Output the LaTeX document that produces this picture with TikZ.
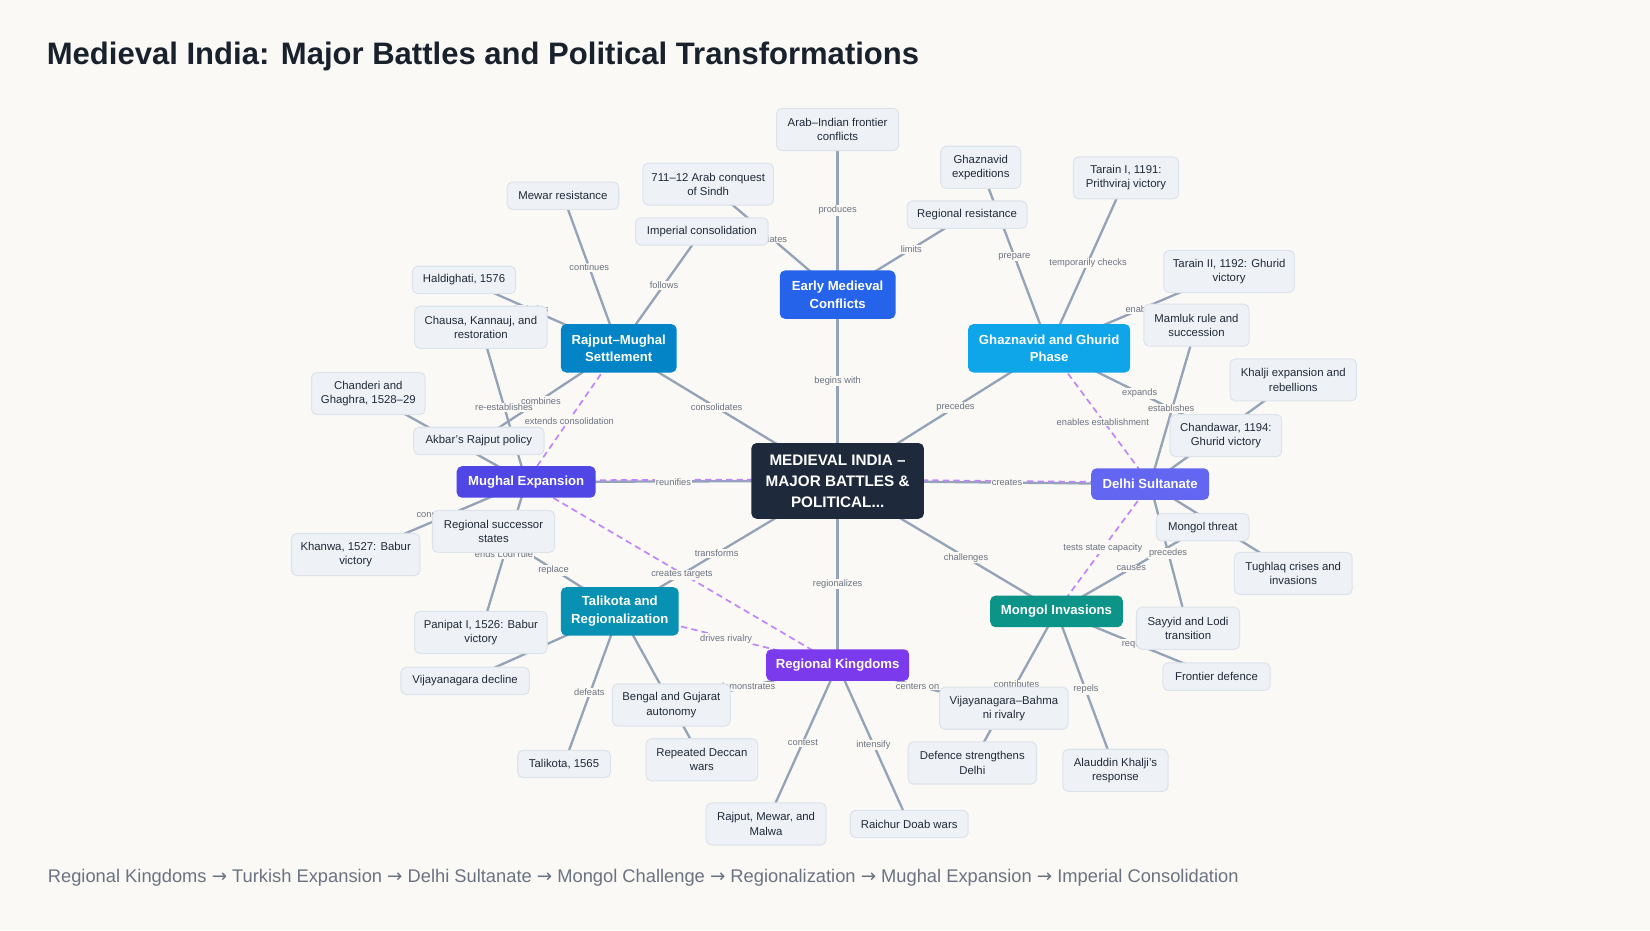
\documentclass[tikz,border=0pt]{standalone}
\usepackage{fontspec}
\setmainfont{Liberation Sans}
\newfontfamily\arrowfont{DejaVu Sans}
\newcommand{\ar}{{\arrowfont →}}
\begin{document}
\definecolor{bg}{HTML}{FAF9F6}
\definecolor{edgec}{HTML}{94A3B8}
\definecolor{lblc}{HTML}{6B7280}
\definecolor{leaff}{HTML}{EEF2F7}
\definecolor{leafd}{HTML}{DDE3EA}
\definecolor{leaft}{HTML}{1F2937}
\definecolor{dash}{HTML}{C084FC}
\begin{tikzpicture}[x=1pt,y=-1pt,
  leaf/.style={draw=leafd,line width=1pt,fill=leaff,rounded corners=5pt,text=leaft,font=\fontsize{10.8}{13.5}\selectfont,align=center,inner sep=0pt},
  hub/.style={rounded corners=5pt,text=white,font=\fontsize{12.5}{17}\selectfont\bfseries,align=center,inner sep=0pt},
  lbl/.style={fill=bg,text=lblc,font=\fontsize{8.8}{10}\selectfont,inner sep=1pt},
  e/.style={draw=edgec,line width=2.2pt},
  d/.style={draw=dash,line width=1.6pt,dash pattern=on 6pt off 4pt}]
\fill[bg] (0,0) rectangle (1568,884);
\useasboundingbox (0,0) rectangle (1568,884);
\node[anchor=west,font=\fontsize{29.5}{34}\selectfont\bfseries,text=leaft!80!black] (title) at (41,54) {Medieval India: Major Battles and Political Transformations};
\node[anchor=west,font=\fontsize{17.4}{20}\selectfont,text=lblc] (foot) at (42,834) {Regional Kingdoms \ar{} Turkish Expansion \ar{} Delhi Sultanate \ar{} Mongol Challenge \ar{} Regionalization \ar{} Mughal Expansion \ar{} Imperial Consolidation};

% coordinates
\coordinate (C) at (796,457);
\coordinate (EM) at (796,280); \coordinate (GG) at (997,331); \coordinate (DS) at (1093,460);
\coordinate (MI) at (1004,581); \coordinate (RK) at (796,632); \coordinate (TR) at (589,581);
\coordinate (ME) at (500,458); \coordinate (RM) at (588,331);
\coordinate (l1) at (796,123); \coordinate (l2) at (673,175); \coordinate (l3) at (667,220);
\coordinate (l4) at (535,186); \coordinate (l5) at (932,159); \coordinate (l6) at (919,204);
\coordinate (l7) at (1070,169); \coordinate (l8) at (1168,258); \coordinate (l9) at (1137,309);
\coordinate (l10) at (1229,361); \coordinate (l11) at (1165,414); \coordinate (l12) at (441,266);
\coordinate (l13) at (457,311); \coordinate (l14) at (350,374); \coordinate (l15) at (455,419);
\coordinate (l16) at (469,505); \coordinate (l17) at (338,527); \coordinate (l18) at (457,601);
\coordinate (l19) at (442,647); \coordinate (l20) at (536,726); \coordinate (l21) at (638,670);
\coordinate (l22) at (667,722); \coordinate (l23) at (728,783); \coordinate (l24) at (864,783);
\coordinate (l25) at (954,673); \coordinate (l26) at (924,725); \coordinate (l27) at (1060,732);
\coordinate (l28) at (1156,643); \coordinate (l29) at (1129,597); \coordinate (l30) at (1143,501);
\coordinate (l31) at (1229,545);

% solid edges
\foreach \a/\b in {C/EM,C/GG,C/DS,C/MI,C/RK,C/TR,C/ME,C/RM,
  EM/l1,EM/l2,EM/l6,GG/l5,GG/l7,GG/l8,GG/l11,DS/l9,DS/l10,DS/l31,DS/l29,
  MI/l30,MI/l28,MI/l27,MI/l26,RK/l25,RK/l23,RK/l24,RK/l21,
  TR/l22,TR/l20,TR/l19,TR/l16,ME/l18,ME/l17,ME/l14,ME/l13,RM/l15,RM/l12,RM/l4,RM/l3}
  \draw[e] (\a) -- (\b);
% dashed edges
\draw[d] ([yshift=1.5pt]C) -- ([yshift=1.5pt]ME);
\draw[d] ([yshift=1.5pt]C) -- ([yshift=1.5pt]DS);
\draw[d] (RM) -- (ME);
\draw[d] (ME) -- (RK);
\draw[d] (TR) -- (RK);
\draw[d] (GG) -- (DS);
\draw[d] (DS) -- (MI);

% edge labels
\node[lbl] (a1) at (796,362) {begins with};
\node[lbl] (a2) at (908,387) {precedes};
\node[lbl] (a3) at (957,459) {creates};
\node[lbl] (a4) at (918,530) {challenges};
\node[lbl] (a5) at (796,555) {regionalizes};
\node[lbl] (a6) at (681,526) {transforms};
\node[lbl] (a7) at (640,458) {reunifies};
\node[lbl] (a8) at (681,387) {consolidates};
\node[lbl] (b1) at (796,200) {produces};
\node[lbl] (b2) at (733,227) {initiates};
\node[lbl] (b3) at (866,237) {limits};
\node[lbl] (b4) at (964,244) {prepare};
\node[lbl] (b5) at (1034,250) {temporarily checks};
\node[lbl] (b6) at (1085,294) {enables};
\node[lbl] (b7) at (1083,374) {expands};
\node[lbl] (b8) at (1113,388) {establishes};
\node[lbl] (b9) at (1048,401) {enables establishment};
\node[lbl] (c1) at (1048,521) {tests state capacity};
\node[lbl] (c2) at (1110,526) {precedes};
\node[lbl] (c3) at (1075,540) {causes};
\node[lbl] (c4) at (1082,612) {requires};
\node[lbl] (c5) at (1032,655) {repels};
\node[lbl] (c6) at (966,650) {contributes};
\node[lbl] (c7) at (872,652) {centers on};
\node[lbl] (c8) at (830,708) {intensify};
\node[lbl] (c9) at (763,706) {contest};
\node[lbl] (c10) at (710,652) {demonstrates};
\node[lbl] (c11) at (690,607) {drives rivalry};
\node[lbl] (c12) at (648,546) {creates targets};
\node[lbl] (d1) at (560,658) {defeats};
\node[lbl] (d2) at (526,542) {replace};
\node[lbl] (d3) at (479,527) {ends Lodi rule};
\node[lbl] (d4) at (414,490) {conquers};
\node[lbl] (d5) at (479,387) {re-establishes};
\node[lbl] (d6) at (514,381) {combines};
\node[lbl] (d7) at (541,400) {extends consolidation};
\node[lbl] (d8) at (505,294) {includes};
\node[lbl] (d9) at (560,254) {continues};
\node[lbl] (d10) at (631,271) {follows};

% hubs
\node[hub,fill={rgb,255:red,30;green,41;blue,59},minimum width=164pt,minimum height=72pt,font=\fontsize{14.5}{20}\selectfont\bfseries] (center) at (C) {MEDIEVAL INDIA –\\MAJOR BATTLES \&\\POLITICAL...};
\node[hub,fill={rgb,255:red,37;green,99;blue,235},minimum width=110pt,minimum height=46pt] (early) at (EM) {Early Medieval\\Conflicts};
\node[hub,fill={rgb,255:red,14;green,165;blue,233},minimum width=154pt,minimum height=46pt] (ghaz) at (GG) {Ghaznavid and Ghurid\\Phase};
\node[hub,fill={rgb,255:red,99;green,102;blue,241},minimum width=112pt,minimum height=30pt] (delhi) at (DS) {Delhi Sultanate};
\node[hub,fill={rgb,255:red,13;green,148;blue,136},minimum width=126pt,minimum height=30pt] (mongol) at (MI) {Mongol Invasions};
\node[hub,fill={rgb,255:red,124;green,58;blue,237},minimum width=136pt,minimum height=30pt] (regk) at (RK) {Regional Kingdoms};
\node[hub,fill={rgb,255:red,8;green,145;blue,178},minimum width=112pt,minimum height=46pt] (tali) at (TR) {Talikota and\\Regionalization};
\node[hub,fill={rgb,255:red,79;green,70;blue,229},minimum width=132pt,minimum height=30pt] (mughal) at (ME) {Mughal Expansion};
\node[hub,fill={rgb,255:red,2;green,132;blue,199},minimum width=110pt,minimum height=46pt] (rajput) at (RM) {Rajput–Mughal\\Settlement};

% leaves
\node[leaf,minimum width=116pt,minimum height=40pt] (n1) at (l1) {Arab–Indian frontier\\conflicts};
\node[leaf,minimum width=124pt,minimum height=40pt] (n2) at (l2) {711–12 Arab conquest\\of Sindh};
\node[leaf,minimum width=126pt,minimum height=26pt] (n3) at (l3) {Imperial consolidation};
\node[leaf,minimum width=106pt,minimum height=26pt] (n4) at (l4) {Mewar resistance};
\node[leaf,minimum width=76pt,minimum height=40pt] (n5) at (l5) {Ghaznavid\\expeditions};
\node[leaf,minimum width=114pt,minimum height=26pt] (n6) at (l6) {Regional resistance};
\node[leaf,minimum width=100pt,minimum height=40pt] (n7) at (l7) {Tarain I, 1191:\\Prithviraj victory};
\node[leaf,minimum width=124pt,minimum height=40pt] (n8) at (l8) {Tarain II, 1192: Ghurid\\victory};
\node[leaf,minimum width=100pt,minimum height=40pt] (n9) at (l9) {Mamluk rule and\\succession};
\node[leaf,minimum width=120pt,minimum height=40pt] (n10) at (l10) {Khalji expansion and\\rebellions};
\node[leaf,minimum width=106pt,minimum height=40pt] (n11) at (l11) {Chandawar, 1194:\\Ghurid victory};
\node[leaf,minimum width=98pt,minimum height=26pt] (n12) at (l12) {Haldighati, 1576};
\node[leaf,minimum width=126pt,minimum height=40pt] (n13) at (l13) {Chausa, Kannauj, and\\restoration};
\node[leaf,minimum width=108pt,minimum height=40pt] (n14) at (l14) {Chanderi and\\Ghaghra, 1528–29};
\node[leaf,minimum width=124pt,minimum height=26pt] (n15) at (l15) {Akbar’s Rajput policy};
\node[leaf,minimum width=116pt,minimum height=40pt] (n16) at (l16) {Regional successor\\states};
\node[leaf,minimum width=122pt,minimum height=40pt] (n17) at (l17) {Khanwa, 1527: Babur\\victory};
\node[leaf,minimum width=126pt,minimum height=40pt] (n18) at (l18) {Panipat I, 1526: Babur\\victory};
\node[leaf,minimum width=122pt,minimum height=26pt] (n19) at (l19) {Vijayanagara decline};
\node[leaf,minimum width=88pt,minimum height=26pt] (n20) at (l20) {Talikota, 1565};
\node[leaf,minimum width=112pt,minimum height=40pt] (n21) at (l21) {Bengal and Gujarat\\autonomy};
\node[leaf,minimum width=106pt,minimum height=40pt] (n22) at (l22) {Repeated Deccan\\wars};
\node[leaf,minimum width=114pt,minimum height=40pt] (n23) at (l23) {Rajput, Mewar, and\\Malwa};
\node[leaf,minimum width=112pt,minimum height=26pt] (n24) at (l24) {Raichur Doab wars};
\node[leaf,minimum width=122pt,minimum height=40pt] (n25) at (l25) {Vijayanagara–Bahma\\ni rivalry};
\node[leaf,minimum width=122pt,minimum height=40pt] (n26) at (l26) {Defence strengthens\\Delhi};
\node[leaf,minimum width=100pt,minimum height=40pt] (n27) at (l27) {Alauddin Khalji’s\\response};
\node[leaf,minimum width=102pt,minimum height=26pt] (n28) at (l28) {Frontier defence};
\node[leaf,minimum width=98pt,minimum height=40pt] (n29) at (l29) {Sayyid and Lodi\\transition};
\node[leaf,minimum width=88pt,minimum height=26pt] (n30) at (l30) {Mongol threat};
\node[leaf,minimum width=112pt,minimum height=40pt] (n31) at (l31) {Tughlaq crises and\\invasions};
\end{tikzpicture}
\end{document}
